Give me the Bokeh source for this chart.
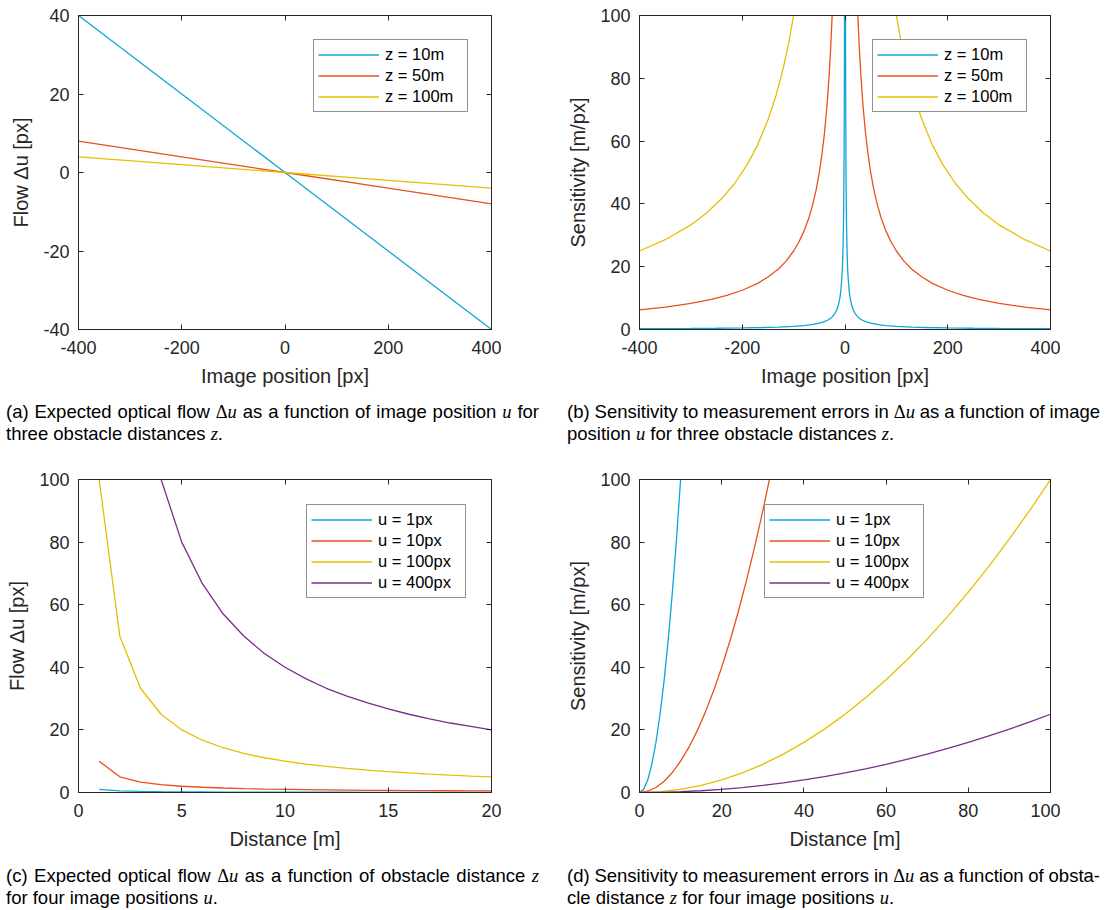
from bokeh.plotting import figure
from bokeh.layouts import column, row
from bokeh.models import Range1d, LinearAxis, FixedTicker, Legend, LegendItem, Div
from bokeh.embed import file_html
from bokeh.resources import INLINE

# ---------------- data ----------------
# (a) expected optical flow vs image position
pos_a = [-400, -200, 0, 200, 400]
flow_a_z10 = [40, 20, 0, -20, -40]
flow_a_z50 = [8, 4, 0, -4, -8]
flow_a_z100 = [4, 2, 0, -2, -4]
labels_z = ["z = 10m", "z = 50m", "z = 100m"]

# (b) sensitivity vs image position (positive half; curves are symmetric in u)
pos_b_z10 = [0.9, 1, 1.2, 1.5, 2, 2.5, 3, 4, 5, 6, 8, 10, 13, 16, 20, 25, 32, 40, 50, 65,
             80, 100, 130, 160, 200, 250, 300, 350, 400]
sens_b_z10 = [111, 100, 83.3, 66.7, 50, 40, 33.3, 25, 20, 16.7, 12.5, 10, 7.7, 6.25, 5, 4,
              3.1, 2.5, 2, 1.54, 1.25, 1, 0.77, 0.63, 0.5, 0.4, 0.33, 0.29, 0.25]
pos_b_z50 = [22, 25, 28, 31, 35, 40, 45, 50, 56, 63, 70, 80, 90, 100, 115, 130, 150, 170,
             200, 230, 260, 300, 350, 400]
sens_b_z50 = [113.6, 100, 89.3, 80.6, 71.4, 62.5, 55.6, 50, 44.6, 39.7, 35.7, 31.25, 27.8,
              25, 21.7, 19.2, 16.7, 14.7, 12.5, 10.9, 9.6, 8.33, 7.14, 6.25]
pos_b_z100 = [90, 100, 110, 120, 135, 150, 170, 190, 215, 240, 270, 300, 350, 400]
sens_b_z100 = [111.1, 100, 90.9, 83.3, 74.1, 66.7, 58.8, 52.6, 46.5, 41.7, 37.0, 33.3,
               28.6, 25]

# (c) expected optical flow vs obstacle distance
dist_c = [1, 2, 3, 4, 5, 6, 7, 8, 9, 10, 11, 12, 13, 14, 15, 16, 17, 18, 19, 20]
flow_c_u1 = [1, 0.5, 0.333, 0.25, 0.2, 0.167, 0.143, 0.125, 0.111, 0.1, 0.091, 0.083,
             0.077, 0.071, 0.067, 0.063, 0.059, 0.056, 0.053, 0.05]
flow_c_u10 = [10, 5, 3.33, 2.5, 2, 1.67, 1.43, 1.25, 1.11, 1, 0.91, 0.83, 0.77, 0.71,
              0.67, 0.63, 0.59, 0.56, 0.53, 0.5]
flow_c_u100 = [100, 50, 33.3, 25, 20, 16.7, 14.3, 12.5, 11.1, 10, 9.09, 8.33, 7.69, 7.14,
               6.67, 6.25, 5.88, 5.56, 5.26, 5]
flow_c_u400 = [400, 200, 133.3, 100, 80, 66.7, 57.1, 50, 44.4, 40, 36.4, 33.3, 30.8, 28.6,
               26.7, 25, 23.5, 22.2, 21.1, 20]
labels_u = ["u = 1px", "u = 10px", "u = 100px", "u = 400px"]

# (d) sensitivity vs obstacle distance
dist_d_u1 = [0, 1, 2, 3, 4, 5, 6, 7, 8, 9, 10, 10.5]
sens_d_u1 = [0, 1, 4, 9, 16, 25, 36, 49, 64, 81, 100, 110.25]
dist_d_u10 = [0, 2, 4, 6, 8, 10, 12, 14, 16, 18, 20, 22, 24, 26, 28, 30, 32, 33]
sens_d_u10 = [0, 0.4, 1.6, 3.6, 6.4, 10, 14.4, 19.6, 25.6, 32.4, 40, 48.4, 57.6, 67.6,
              78.4, 90, 102.4, 108.9]
dist_d = [0, 5, 10, 15, 20, 25, 30, 35, 40, 45, 50, 55, 60, 65, 70, 75, 80, 85, 90, 95, 100]
sens_d_u100 = [0, 0.25, 1, 2.25, 4, 6.25, 9, 12.25, 16, 20.25, 25, 30.25, 36, 42.25, 49,
               56.25, 64, 72.25, 81, 90.25, 100]
sens_d_u400 = [0, 0.0625, 0.25, 0.5625, 1, 1.5625, 2.25, 3.0625, 4, 5.0625, 6.25, 7.5625,
               9, 10.5625, 12.25, 14.0625, 16, 18.0625, 20.25, 22.5625, 25]

# ticks
ticks_pos = [-400, -200, 0, 200, 400]
ticks_pos_lbl = ["-400", "-200", "0", "200", "400"]
ticks_flow_a = [-40, -20, 0, 20, 40]
ticks_flow_a_lbl = ["-40", "-20", "0", "20", "40"]
ticks_0_100 = [0, 20, 40, 60, 80, 100]
ticks_0_100_lbl = ["0", "20", "40", "60", "80", "100"]
ticks_dist_c = [0, 5, 10, 15, 20]
ticks_dist_c_lbl = ["0", "5", "10", "15", "20"]

# captions
SERIF = "Liberation Serif"
def mi(s):
    return f'<span style="font-family:\'{SERIF}\';font-style:italic">{s}</span>'
DU = f'<span style="font-family:\'{SERIF}\'">&Delta;</span>{mi("u")}'
cap_a = (f"(a) Expected optical flow {DU} as a function of image position {mi('u')} for",
         f"three obstacle distances {mi('z')}.")
cap_b = (f"(b) Sensitivity to measurement errors in {DU} as a function of image",
         f"position {mi('u')} for three obstacle distances {mi('z')}.")
cap_c = (f"(c) Expected optical flow {DU} as a function of obstacle distance {mi('z')}",
         f"for four image positions {mi('u')}.")
cap_d = (f"(d) Sensitivity to measurement errors in {DU} as a function of obsta-",
         f"cle distance {mi('z')} for four image positions {mi('u')}.")

# ---------------- styling ----------------
FONT = "Liberation Sans"
INK = "#262626"
C1, C2, C3, C4 = "#0ea6d9", "#e8501e", "#e5c000", "#7b2b8c"
LW = 1.3
FH1, FH2 = 314, 313


def style_axis(ax, ticks, labels, show):
    ax.ticker = FixedTicker(ticks=ticks)
    ax.major_tick_in = 5
    ax.major_tick_out = 0
    ax.minor_tick_line_color = None
    ax.axis_line_color = INK
    ax.major_tick_line_color = INK
    ax.major_label_text_font = FONT
    ax.major_label_text_color = INK
    ax.axis_label_text_font = FONT
    ax.axis_label_text_font_style = "normal"
    ax.axis_label_text_color = INK
    ax.axis_label_text_font_size = "20px"
    if show:
        ax.major_label_overrides = {t: l for t, l in zip(ticks, labels)}
        ax.major_label_text_font_size = "18px"
    else:
        ax.major_label_overrides = {t: "" for t in ticks}
        ax.major_label_text_font_size = "0px"
        ax.major_label_standoff = 0


def make_panel(xr, yr, xt, xtl, yt, ytl, xlabel, ylabel, left_border, fw, fh):
    p = figure(frame_width=fw, frame_height=fh, x_range=Range1d(*xr), y_range=Range1d(*yr),
               output_backend="svg", toolbar_location=None, title=None,
               min_border_left=left_border, min_border_right=10, min_border_top=15,
               min_border_bottom=60)
    p.xgrid.visible = False
    p.ygrid.visible = False
    p.outline_line_color = INK
    p.background_fill_color = "white"
    p.border_fill_color = "white"
    xa = p.xaxis[0]
    style_axis(xa, xt, xtl, True)
    xa.axis_label = xlabel
    xa.major_label_standoff = 11
    xa.axis_label_standoff = 8
    ya = p.yaxis[0]
    style_axis(ya, yt, ytl, True)
    ya.axis_label = ylabel
    ya.major_label_standoff = 9
    ya.axis_label_standoff = 8
    top = LinearAxis()
    style_axis(top, xt, xtl, False)
    p.add_layout(top, "above")
    right = LinearAxis()
    style_axis(right, yt, ytl, False)
    p.add_layout(right, "right")
    return p


def add_legend(p, renderers, labels, loc, label_width):
    leg = Legend(items=[LegendItem(label=l, renderers=[r]) for l, r in zip(labels, renderers)],
                 location=loc)
    leg.border_line_color = INK
    leg.border_line_width = 1
    leg.background_fill_color = "white"
    leg.background_fill_alpha = 1
    leg.label_text_font = FONT
    leg.label_text_font_size = "16.5px"
    leg.label_text_color = "#000000"
    leg.glyph_width = 61
    leg.glyph_height = 21
    leg.label_height = 21
    leg.label_width = label_width
    leg.label_standoff = 6
    leg.spacing = 0
    leg.padding = 4
    leg.margin = 0
    p.add_layout(leg)


def mirror(xs, ys):
    return [-x for x in xs[::-1]] + list(xs), list(ys[::-1]) + list(ys)


# (a)
pa = make_panel((-400, 400), (-40, 40), ticks_pos, ticks_pos_lbl, ticks_flow_a, ticks_flow_a_lbl,
                "Image position [px]", "Flow \u0394u [px]", 78, 413, FH1)
ra = [pa.line(pos_a, flow_a_z10, line_color=C1, line_width=LW),
      pa.line(pos_a, flow_a_z50, line_color=C2, line_width=LW),
      pa.line(pos_a, flow_a_z100, line_color=C3, line_width=LW)]
add_legend(pa, ra, labels_z, (235, 217), 78)

# (b)
pb = make_panel((-400, 400), (0, 100), ticks_pos, ticks_pos_lbl, ticks_0_100, ticks_0_100_lbl,
                "Image position [px]", "Sensitivity [m/px]", 138, 411, FH1)
rb = []
for xs, ys, c in [(pos_b_z10, sens_b_z10, C1), (pos_b_z50, sens_b_z50, C2),
                  (pos_b_z100, sens_b_z100, C3)]:
    mx, my = mirror(xs, ys)
    rb.append(pb.line(mx, my, line_color=c, line_width=LW))
add_legend(pb, rb, labels_z, (233, 217), 78)

# (c)
pc = make_panel((0, 20), (0, 100), ticks_dist_c, ticks_dist_c_lbl, ticks_0_100, ticks_0_100_lbl,
                "Distance [m]", "Flow \u0394u [px]", 78, 413, FH2)
rc = [pc.line(dist_c, flow_c_u1, line_color=C1, line_width=LW),
      pc.line(dist_c, flow_c_u10, line_color=C2, line_width=LW),
      pc.line(dist_c, flow_c_u100, line_color=C3, line_width=LW),
      pc.line(dist_c, flow_c_u400, line_color=C4, line_width=LW)]
add_legend(pc, rc, labels_u, (228, 194), 83)

# (d)
pd_ = make_panel((0, 100), (0, 100), ticks_0_100, ticks_0_100_lbl, ticks_0_100, ticks_0_100_lbl,
                 "Distance [m]", "Sensitivity [m/px]", 138, 411, FH2)
rd = [pd_.line(dist_d_u1, sens_d_u1, line_color=C1, line_width=LW),
      pd_.line(dist_d_u10, sens_d_u10, line_color=C2, line_width=LW),
      pd_.line(dist_d, sens_d_u100, line_color=C3, line_width=LW),
      pd_.line(dist_d, sens_d_u400, line_color=C4, line_width=LW)]
add_legend(pd_, rd, labels_u, (125, 194), 83)


def caption(lines, width, pad_left, text_w, height, pad_top):
    l1, l2 = lines
    html = (f'<div style="font-family:\'{FONT}\';font-size:18.5px;line-height:21px;color:#000;'
            f'padding-top:{pad_top}px;padding-left:{pad_left}px;width:{text_w}px">'
            f'<div style="text-align:justify;text-align-last:justify;word-spacing:-2px;">{l1}</div>'
            f'<div style="text-align:left;">{l2}</div></div>')
    return Div(text=html, width=width, height=height, margin=0)


da = caption(cap_a, 567, 6, 539, 75, 12)
db = caption(cap_b, 540, 0, 533, 75, 12)
dc = caption(cap_c, 567, 6, 539, 56, 13)
dd = caption(cap_d, 540, 0, 533, 56, 13)

layout = column(row(pa, pb), row(da, db), row(pc, pd_), row(dc, dd))

open("out.html", "w").write(file_html(layout, INLINE))
